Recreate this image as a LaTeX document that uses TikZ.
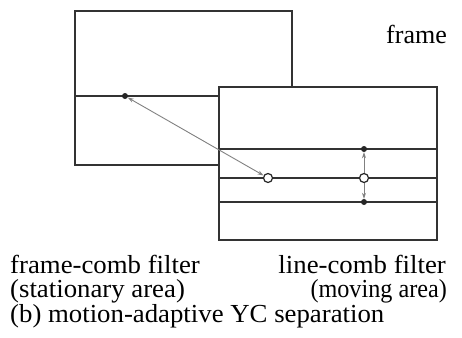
\documentclass[tikz,border=0pt]{standalone}
\usepackage{fontspec}
\setmainfont{Liberation Serif}
\usetikzlibrary{arrows.meta}
\begin{document}
\begin{tikzpicture}[x=1pt,y=-1pt,
  frameline/.style={line width=1.4pt,black!80},
  fdot/.style={circle,fill=black!85,inner sep=0pt,minimum size=6pt},
  odot/.style={circle,draw=black!85,fill=white,line width=1.2pt,inner sep=0pt,minimum size=9pt},
  ref/.style={gray,line width=0.9pt,-{Stealth[length=6pt,width=4pt]}},
  lbl/.style={font=\fontsize{26}{26}\selectfont,inner sep=0pt}]
\useasboundingbox (0,0) rectangle (462,337);
% back frame
\draw[frameline] (219,96) -- (219,87) (292,87) -- (292,11) -- (75,11) -- (75,165) -- (219,165);
\draw[frameline] (75,96) -- (219,96);
% front frame
\draw[frameline] (219,87) rectangle (437,240);
\draw[frameline] (219,149) -- (437,149);
\draw[frameline] (219,178) -- (437,178);
\draw[frameline] (219,202) -- (437,202);
% nodes
\node[fdot] (p) at (125,96) {};
\node[odot] (c) at (268,178) {};
\node[fdot] (u) at (364,149) {};
\node[odot] (m) at (364,178) {};
\node[fdot] (d) at (364,202) {};
\draw[ref,{Stealth[length=6pt,width=4pt]}-{Stealth[length=6pt,width=4pt]}] (p) -- (c);
\draw[ref] (m) -- (u);
\draw[ref] (m) -- (d);
% labels
\node[lbl,anchor=base east] (fr) at (447,44) {frame};
\node[lbl,anchor=base west] (t1) at (10,273) {\scalebox{1.03}[1]{frame-comb filter}};
\node[lbl,anchor=base west] (t2) at (10,297) {\scalebox{1.03}[1]{(stationary area)}};
\node[lbl,anchor=base east] (t3) at (446,273) {\scalebox{1.03}[1]{line-comb filter}};
\node[lbl,anchor=base east] (t4) at (447,297) {\scalebox{0.93}[1]{(moving area)}};
\node[lbl,anchor=base west] (t5) at (10,322) {\scalebox{1.03}[1]{(b) motion-adaptive YC separation}};
\end{tikzpicture}
\end{document}
